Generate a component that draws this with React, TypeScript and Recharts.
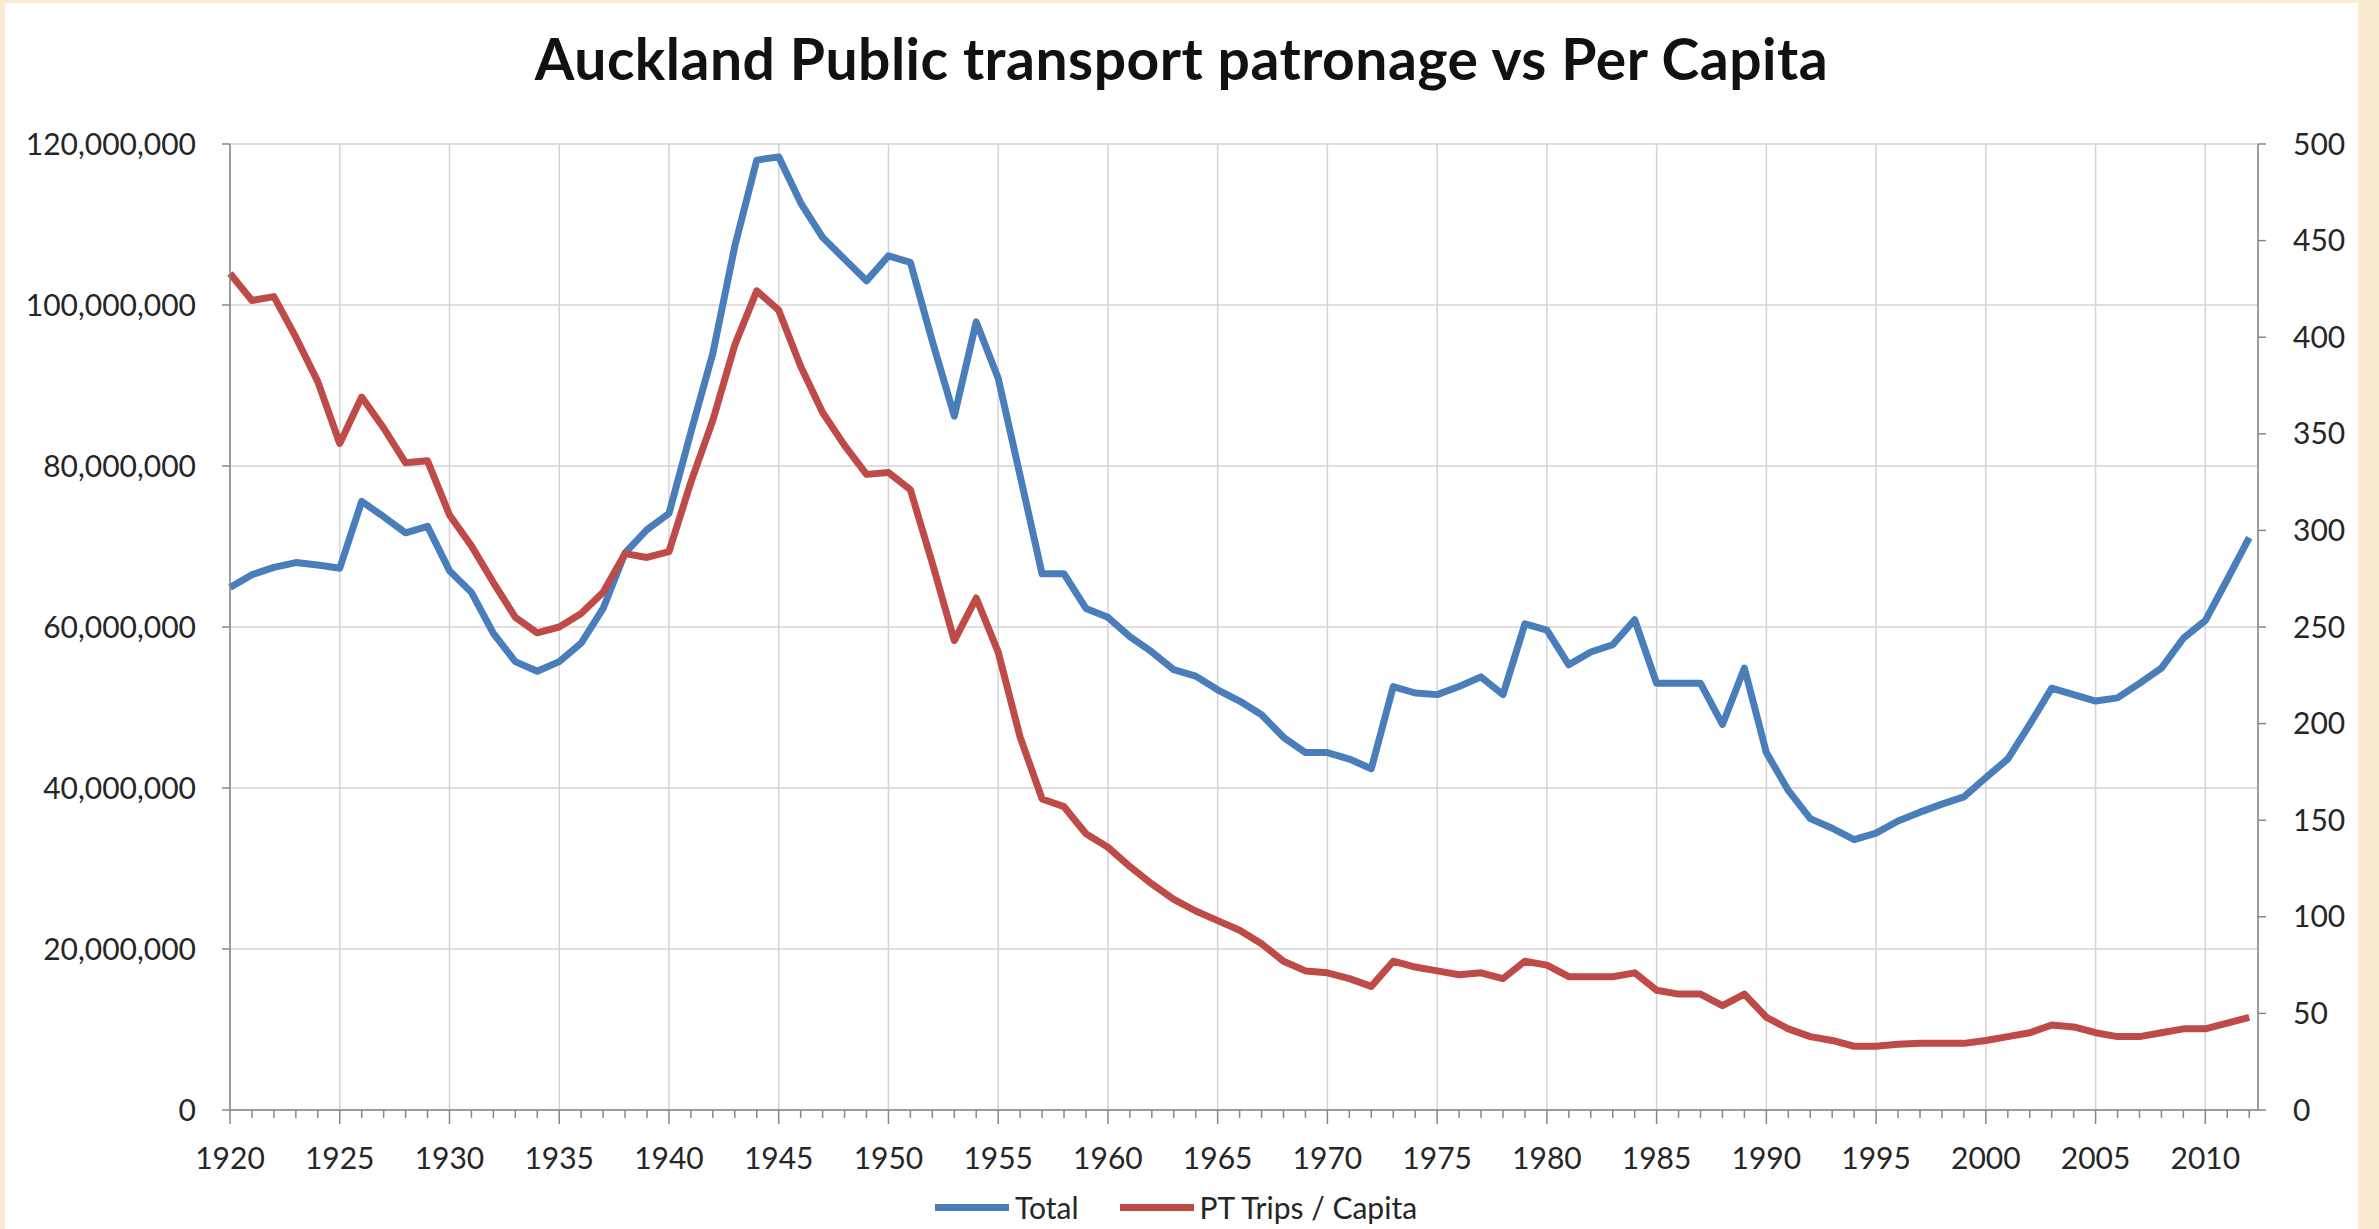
import { LineChart, Line, XAxis, YAxis, CartesianGrid } from 'recharts';

// years on the category axis
const years = [
  1920, 1921, 1922, 1923, 1924, 1925, 1926, 1927, 1928, 1929,
  1930, 1931, 1932, 1933, 1934, 1935, 1936, 1937, 1938, 1939,
  1940, 1941, 1942, 1943, 1944, 1945, 1946, 1947, 1948, 1949,
  1950, 1951, 1952, 1953, 1954, 1955, 1956, 1957, 1958, 1959,
  1960, 1961, 1962, 1963, 1964, 1965, 1966, 1967, 1968, 1969,
  1970, 1971, 1972, 1973, 1974, 1975, 1976, 1977, 1978, 1979,
  1980, 1981, 1982, 1983, 1984, 1985, 1986, 1987, 1988, 1989,
  1990, 1991, 1992, 1993, 1994, 1995, 1996, 1997, 1998, 1999,
  2000, 2001, 2002, 2003, 2004, 2005, 2006, 2007, 2008, 2009,
  2010, 2011, 2012,
];

// total patronage (trips per year)
const totalTrips = [
  64_900_000, 66_500_000, 67_400_000, 68_000_000, 67_700_000, 67_300_000, 75_600_000, 73_700_000, 71_700_000, 72_500_000,
  67_000_000, 64_300_000, 59_200_000, 55_700_000, 54_500_000, 55_700_000, 58_000_000, 62_300_000, 69_200_000, 72_100_000,
  74_100_000, 84_200_000, 94_000_000, 107_300_000, 118_000_000, 118_400_000, 112_700_000, 108_400_000, 105_700_000, 103_000_000,
  106_100_000, 105_300_000, 95_500_000, 86_200_000, 97_900_000, 90_900_000, 78_800_000, 66_600_000, 66_600_000, 62_300_000,
  61_200_000, 58_800_000, 56_900_000, 54_700_000, 53_900_000, 52_200_000, 50_800_000, 49_100_000, 46_300_000, 44_400_000,
  44_400_000, 43_600_000, 42_400_000, 52_600_000, 51_800_000, 51_600_000, 52_600_000, 53_800_000, 51_600_000, 60_400_000,
  59_600_000, 55_300_000, 56_900_000, 57_800_000, 60_900_000, 53_000_000, 53_000_000, 53_000_000, 47_900_000, 54_900_000,
  44_400_000, 39_700_000, 36_200_000, 35_000_000, 33_600_000, 34_400_000, 35_900_000, 37_000_000, 38_000_000, 38_900_000,
  41_300_000, 43_600_000, 47_900_000, 52_400_000, 51_600_000, 50_800_000, 51_200_000, 53_000_000, 54_900_000, 58_600_000,
  60_800_000, 65_900_000, 71_100_000,
];

// trips per head of population
const tripsPerCapita = [
  433, 419, 421, 400, 377, 345, 369, 353, 335, 336,
  308, 292, 273, 255, 247, 250, 257, 268, 288, 286,
  289, 325, 357, 396, 424, 414, 385, 361, 344, 329,
  330, 321, 283, 243, 265, 237, 193, 161, 157, 143,
  136, 126, 117, 109, 103, 98, 93, 86, 77, 72,
  71, 68, 64, 77, 74, 72, 70, 71, 68, 77,
  75, 69, 69, 69, 71, 62, 60, 60, 54, 60,
  48, 42, 38, 36, 33, 33, 34, 34.5, 34.5, 34.5,
  36, 38, 40, 44, 43, 40, 38, 38, 40, 42,
  42, 45, 48,
];

const yearLabels = [1920, 1925, 1930, 1935, 1940, 1945, 1950, 1955, 1960, 1965, 1970, 1975, 1980, 1985, 1990, 1995, 2000, 2005, 2010];
const gridYears = yearLabels.slice(1);
const leftTicks = [0, 20_000_000, 40_000_000, 60_000_000, 80_000_000, 100_000_000, 120_000_000];
const rightTicks = [0, 50, 100, 150, 200, 250, 300, 350, 400, 450, 500];

const seriesNames = ['Total', 'PT Trips / Capita'];
const seriesColors = ['#4A7EBB', '#BE4B48'];

const data = years.map((year, i) => ({
  year,
  total: totalTrips[i],
  perCapita: tripsPerCapita[i],
}));

const FONT = 'Lato, "Open Sans", sans-serif';
const AXIS = '#878787';
const GRID = '#D4D4D4';
const TEXT = '#262626';

function YearTick({ x, y, payload }: any) {
  const major = yearLabels.includes(payload.value);
  return (
    <g>
      <line x1={x} x2={x} y1={y} y2={y + (major ? 14 : 8)} stroke={AXIS} strokeWidth={1.5} />
      {major && (
        <text x={x} y={y + 38} dy="0.71em" textAnchor="middle" fontSize={30} fontFamily={FONT} fill={TEXT}>
          {payload.value}
        </text>
      )}
    </g>
  );
}

const fmt = (v: number) => v.toLocaleString('en-US');

export default function App() {
  return (
    <div style={{ position: 'absolute', left: 0, top: 0, width: 2379, height: 1229, background: '#FBEBD2', overflow: 'hidden' }}>
      <div style={{ position: 'absolute', left: 5, top: 3, width: 2353, height: 1226, background: '#FFFFFF' }} />
      <div
        style={{
          position: 'absolute', left: 5, width: 2353, top: 30, textAlign: 'center',
          fontFamily: FONT, fontWeight: 700, fontSize: 57, letterSpacing: 0.5, lineHeight: 1, color: '#111',
        }}
      >
        Auckland Public transport patronage vs Per Capita
      </div>
      <div style={{ position: 'absolute', left: 0, top: 0 }}>
        <LineChart width={2379} height={1229} data={data} margin={{ top: 144, right: 0, bottom: 0, left: 0 }}>
          <XAxis xAxisId="grid" dataKey="year" type="number" domain={[1920, 2012.4]} ticks={gridYears} hide />
          <CartesianGrid xAxisId="grid" yAxisId="left" stroke={GRID} strokeWidth={1.5} />
          <XAxis
            dataKey="year"
            type="number"
            domain={[1920, 2012.4]}
            ticks={years}
            interval={0}
            height={119}
            tickSize={0}
            tickMargin={0}
            tickLine={false}
            tick={<YearTick />}
            axisLine={{ stroke: AXIS, strokeWidth: 1.5 }}
          />
          <YAxis
            yAxisId="left"
            width={230}
            domain={[0, 120_000_000]}
            ticks={leftTicks}
            interval={0}
            tickFormatter={fmt}
            tickSize={8}
            tickMargin={26}
            axisLine={{ stroke: AXIS, strokeWidth: 1.5 }}
            tickLine={{ stroke: AXIS, strokeWidth: 1.5 }}
            tick={{ fontSize: 30, fontFamily: FONT, fill: TEXT }}
          />
          <YAxis
            yAxisId="right"
            orientation="right"
            width={121}
            domain={[0, 500]}
            ticks={rightTicks}
            interval={0}
            tickSize={8}
            tickMargin={27}
            axisLine={{ stroke: AXIS, strokeWidth: 1.5 }}
            tickLine={{ stroke: AXIS, strokeWidth: 1.5 }}
            tick={{ fontSize: 30, fontFamily: FONT, fill: TEXT, textAnchor: 'start' }}
          />
          <Line
            yAxisId="left"
            dataKey="total"
            name={seriesNames[0]}
            type="linear"
            stroke={seriesColors[0]}
            strokeWidth={7}
            strokeLinejoin="round"
            dot={false}
            isAnimationActive={false}
          />
          <Line
            yAxisId="right"
            dataKey="perCapita"
            name={seriesNames[1]}
            type="linear"
            stroke={seriesColors[1]}
            strokeWidth={7}
            strokeLinejoin="round"
            dot={false}
            isAnimationActive={false}
          />
        </LineChart>
      </div>
      {/* legend */}
      <div style={{ position: 'absolute', left: 935, top: 1191, display: 'flex', alignItems: 'center', fontFamily: FONT, fontSize: 30, color: TEXT, lineHeight: '32px' }}>
        {seriesNames.map((name, i) => (
          <div key={name} style={{ display: 'flex', alignItems: 'center', marginRight: i === 0 ? 41 : 0 }}>
            <div style={{ width: 74, height: 7, background: seriesColors[i], marginRight: 6 }} />
            <span>{name}</span>
          </div>
        ))}
      </div>
    </div>
  );
}
